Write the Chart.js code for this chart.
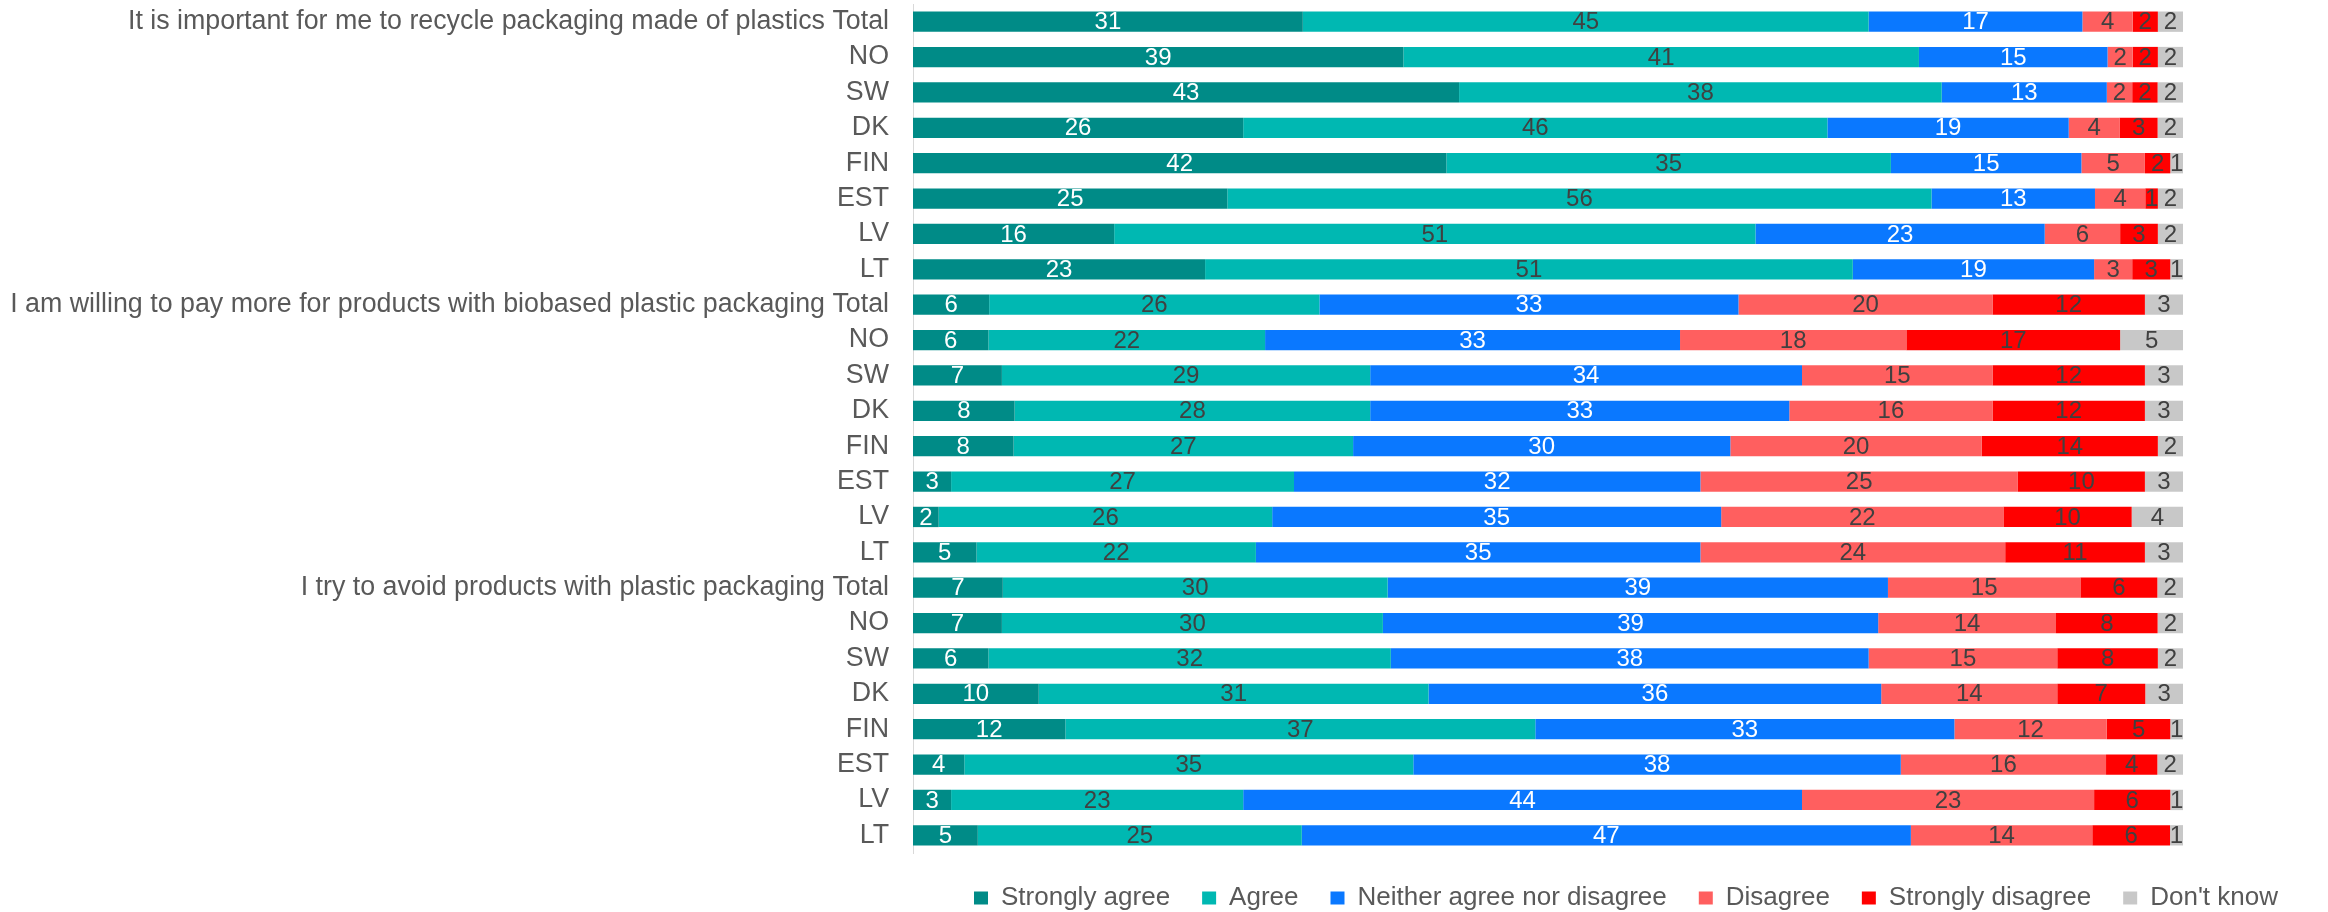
<!DOCTYPE html>
<html>
<head>
<meta charset="utf-8">
<script src="https://cdn.jsdelivr.net/npm/chart.js@4.4.0/dist/chart.umd.min.js"></script>
<style>
html,body{margin:0;padding:0;background:#ffffff;}
#wrap{width:2328px;height:912px;position:relative;}
</style>
</head>
<body>
<div id="wrap"><canvas id="c" width="2328" height="912"></canvas></div>
<script>
// ---------- DATA ----------
const categories = [
  'It is important for me to recycle packaging made of plastics Total', 'NO', 'SW', 'DK', 'FIN', 'EST', 'LV', 'LT',
  'I am willing to pay more for products with biobased plastic packaging Total', 'NO', 'SW', 'DK', 'FIN', 'EST', 'LV', 'LT',
  'I try to avoid products with plastic packaging Total', 'NO', 'SW', 'DK', 'FIN', 'EST', 'LV', 'LT'
];
const seriesNames = ['Strongly agree', 'Agree', 'Neither agree nor disagree', 'Disagree', 'Strongly disagree', "Don't know"];
const stronglyAgree    = [31, 39, 43, 26, 42, 25, 16, 23,   6,  6,  7,  8,  8,  3,  2,  5,   7,  7,  6, 10, 12,  4,  3,  5];
const agree            = [45, 41, 38, 46, 35, 56, 51, 51,  26, 22, 29, 28, 27, 27, 26, 22,  30, 30, 32, 31, 37, 35, 23, 25];
const neither          = [17, 15, 13, 19, 15, 13, 23, 19,  33, 33, 34, 33, 30, 32, 35, 35,  39, 39, 38, 36, 33, 38, 44, 47];
const disagree         = [ 4,  2,  2,  4,  5,  4,  6,  3,  20, 18, 15, 16, 20, 25, 22, 24,  15, 14, 15, 14, 12, 16, 23, 14];
const stronglyDisagree = [ 2,  2,  2,  3,  2,  1,  3,  3,  12, 17, 12, 12, 14, 10, 10, 11,   6,  8,  8,  7,  5,  4,  6,  6];
const dontKnow         = [ 2,  2,  2,  2,  1,  2,  2,  1,   3,  5,  3,  3,  2,  3,  4,  3,   2,  2,  2,  3,  1,  2,  1,  1];

// ---------- STYLE ----------
const seriesValues = [stronglyAgree, agree, neither, disagree, stronglyDisagree, dontKnow];
const colors = ['#008B87', '#00B8B2', '#0A78FF', '#FF5F5F', '#FF0000', '#C8C8C8'];
const labelColors = ['#FFFFFF', '#404040', '#FFFFFF', '#404040', '#404040', '#404040'];
const FONT = '"Liberation Sans", Arial, sans-serif';

// 100% stacked (like the original): each row normalised to its own total
const rowTotals = categories.map((_, i) => seriesValues.reduce((s, arr) => s + arr[i], 0));

const datasets = seriesNames.map((name, k) => ({
  label: name,
  data: seriesValues[k].map((v, i) => v / rowTotals[i] * 100),
  rawValues: seriesValues[k],
  backgroundColor: colors[k],
  borderWidth: 0,
  barPercentage: 0.575,
  categoryPercentage: 1.0
}));

const barLabels = {
  id: 'barLabels',
  afterDatasetsDraw(chart) {
    const ctx = chart.ctx;
    ctx.save();
    ctx.font = '24px ' + FONT;
    ctx.textAlign = 'center';
    ctx.textBaseline = 'middle';
    chart.data.datasets.forEach((ds, di) => {
      const meta = chart.getDatasetMeta(di);
      if (meta.hidden) return;
      meta.data.forEach((el, i) => {
        const p = el.getProps(['x', 'y', 'base'], true);
        ctx.fillStyle = labelColors[di];
        ctx.fillText(String(ds.rawValues[i]), (p.x + p.base) / 2, p.y + 1);
      });
    });
    ctx.restore();
  }
};

const legendPlacer = {
  id: 'legendPlacer',
  afterLayout(chart) {
    const lg = chart.legend;
    if (!lg) return;
    const pad = lg.options.labels.padding;
    const cx = 1626, cy = 898;
    lg.left = cx - 800; lg.right = cx + 800; lg.width = 1600;
    lg.top = cy - 13 - pad; lg.bottom = 912; lg.height = lg.bottom - lg.top;
  }
};

new Chart(document.getElementById('c'), {
  type: 'bar',
  data: { labels: categories, datasets },
  options: {
    indexAxis: 'y',
    responsive: false,
    animation: false,
    devicePixelRatio: 1,
    layout: { padding: { top: 4, right: 145, left: 0, bottom: 0 } },
    scales: {
      x: { stacked: true, min: 0, max: 100, display: false },
      y: {
        stacked: true,
        grid: { display: false, drawTicks: false },
        border: { display: true, color: '#D9D9D9', width: 1 },
        ticks: { color: '#595959', font: { family: FONT, size: 26.8 }, padding: 24, autoSkip: false },
        afterFit(scale) {
          scale.width = 913;
          scale.paddingTop = 0;
          scale.paddingBottom = 0;
        }
      }
    },
    plugins: {
      legend: {
        position: 'bottom',
        align: 'center',
        maxHeight: 59,
        labels: {
          color: '#595959',
          font: { family: FONT, size: 26 },
          boxWidth: 14,
          boxHeight: 13,
          padding: 32
        }
      },
      tooltip: { enabled: false }
    }
  },
  plugins: [barLabels, legendPlacer]
});
</script>
</body>
</html>
